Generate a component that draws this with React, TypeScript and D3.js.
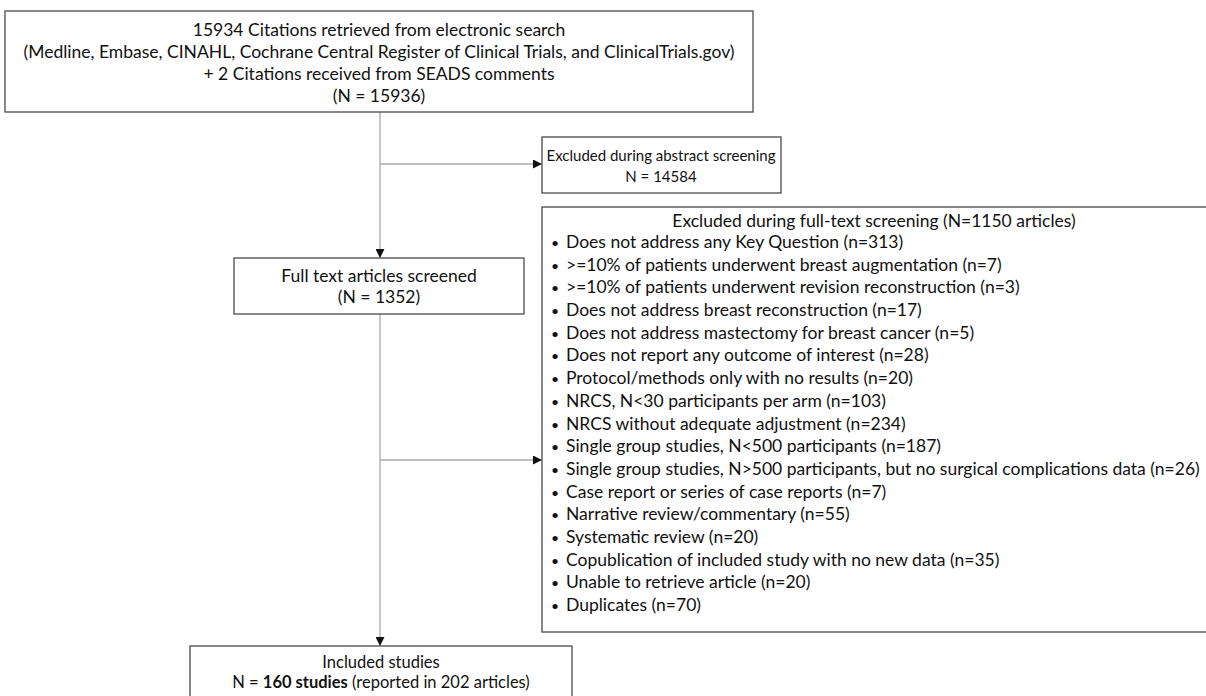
import * as d3 from 'd3';
import React, { useEffect, useRef } from 'react';

// Box texts
const searchLines = [
  '15934 Citations retrieved from electronic search',
  '(Medline, Embase, CINAHL, Cochrane Central Register of Clinical Trials, and ClinicalTrials.gov)',
  '+ 2 Citations received from SEADS comments',
  '(N = 15936)',
];
const abstractLines = ['Excluded during abstract screening', 'N = 14584'];
const fullTextLines = ['Full text articles screened', '(N = 1352)'];
const fullTextHeader = 'Excluded during full-text screening (N=1150 articles)';

// Full-text exclusion reasons and counts
const exclusionReasons = [
  'Does not address any Key Question',
  '>=10% of patients underwent breast augmentation',
  '>=10% of patients underwent revision reconstruction',
  'Does not address breast reconstruction',
  'Does not address mastectomy for breast cancer',
  'Does not report any outcome of interest',
  'Protocol/methods only with no results',
  'NRCS, N<30 participants per arm',
  'NRCS without adequate adjustment',
  'Single group studies, N<500 participants',
  'Single group studies, N>500 participants, but no surgical complications data',
  'Case report or series of case reports',
  'Narrative review/commentary',
  'Systematic review',
  'Copublication of included study with no new data',
  'Unable to retrieve article',
  'Duplicates',
];
const exclusionCounts = [313, 7, 3, 17, 5, 28, 20, 103, 234, 187, 26, 7, 55, 20, 35, 20, 70];

const includedTitle = 'Included studies';
const includedStudies = 160;
const includedArticles = 202;

const FONT = 'Lato, "Open Sans", sans-serif';

const App: React.FC = () => {
  const svgRef = useRef<SVGSVGElement | null>(null);

  useEffect(() => {
    const width = 1206;
    const height = 696;

    d3.select(svgRef.current).selectAll('*').remove();

    const svg = d3
      .select(svgRef.current)
      .attr('width', width)
      .attr('height', height)
      .style('font-family', FONT)
      .style('font-size', '17.5px');

    svg.append('rect').attr('width', width).attr('height', height).attr('fill', '#fff');

    const defs = svg.append('defs');
    defs
      .append('marker')
      .attr('id', 'arrow')
      .attr('viewBox', '0 0 10 10')
      .attr('refX', 10)
      .attr('refY', 5)
      .attr('markerUnits', 'userSpaceOnUse')
      .attr('markerWidth', 9)
      .attr('markerHeight', 9)
      .attr('orient', 'auto')
      .append('path')
      .attr('d', 'M0,0L10,5L0,10Z')
      .attr('fill', '#111');

    const boxStroke = '#4a4a4a';
    const lineStroke = '#a8a8a8';

    const box = (x0: number, y0: number, x1: number, y1: number) =>
      svg
        .append('rect')
        .attr('x', x0)
        .attr('y', y0)
        .attr('width', x1 - x0)
        .attr('height', y1 - y0)
        .attr('fill', 'none')
        .attr('stroke', boxStroke)
        .attr('stroke-width', 1.3);

    const centered = (lines: string[], cx: number, y0: number, step: number, size?: number) =>
      svg
        .append('g')
        .style('font-size', size ? `${size}px` : null)
        .selectAll('text')
        .data(lines)
        .enter()
        .append('text')
        .attr('x', cx)
        .attr('y', (_, i) => y0 + i * step)
        .attr('text-anchor', 'middle')
        .attr('fill', '#111')
        .text(d => d);

    const link = (x0: number, y0: number, x1: number, y1: number) =>
      svg
        .append('line')
        .attr('x1', x0)
        .attr('y1', y0)
        .attr('x2', x1)
        .attr('y2', y1)
        .attr('stroke', lineStroke)
        .attr('stroke-width', 1.3)
        .attr('marker-end', 'url(#arrow)');

    const spineX = 380;

    // connectors
    link(spineX, 112, spineX, 258);
    link(spineX, 164, 542, 164);
    link(spineX, 314, spineX, 646);
    link(spineX, 460, 542, 460);

    // top search box
    box(5, 11, 753, 112);
    centered(searchLines, 379, 36, 22);

    // abstract screening exclusions
    box(542, 137, 781, 193);
    centered(abstractLines, 661, 161, 21, 15);

    // full text screened
    box(234, 258, 524, 314);
    centered(fullTextLines, 379, 282, 21);

    // full-text exclusions
    box(542, 207, 1210, 632);
    centered([fullTextHeader], 874, 227, 0);

    const y = d3
      .scaleLinear()
      .domain([0, exclusionReasons.length - 1])
      .range([248, 611]);

    const items = svg
      .append('g')
      .selectAll('g')
      .data(exclusionReasons.map((r, i) => ({ reason: r, n: exclusionCounts[i] })))
      .enter()
      .append('g')
      .attr('transform', (_, i) => `translate(0,${y(i)})`);
    items.append('text').attr('x', 551).attr('fill', '#111').style('font-size', '14px').text('•');
    items
      .append('text')
      .attr('x', 566)
      .attr('fill', '#111')
      .text(d => `${d.reason} (n=${d.n})`);

    // included studies
    box(190, 646, 572, 720);
    centered([includedTitle], 381, 668, 0, 16.5);
    const last = svg
      .append('text')
      .attr('x', 381)
      .attr('y', 688)
      .attr('text-anchor', 'middle')
      .attr('fill', '#111')
      .style('font-size', '16.5px');
    last.append('tspan').text('N = ');
    last.append('tspan').attr('font-weight', 'bold').text(`${includedStudies} studies`);
    last.append('tspan').text(` (reported in ${includedArticles} articles)`);
  }, []);

  return (
    <svg
      ref={svgRef}
      style={{ position: 'absolute', left: 0, top: 0, display: 'block' }}
    ></svg>
  );
};

export default App;
